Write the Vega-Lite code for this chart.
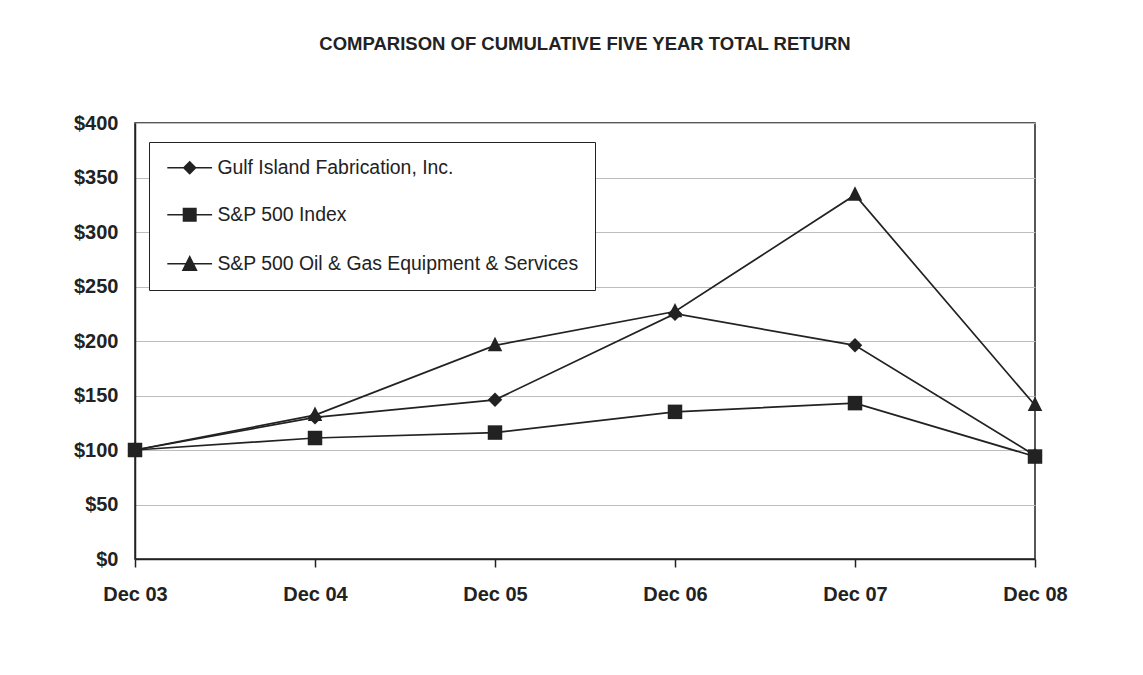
{
  "$schema": "https://vega.github.io/schema/vega-lite/v6.json",
  "width": 900,
  "height": 436,
  "autosize": {"type": "none"},
  "padding": {"left": 135, "top": 123, "right": 108, "bottom": 116},
  "background": "white",
  "title": {
    "text": "COMPARISON OF CUMULATIVE FIVE YEAR TOTAL RETURN",
    "font": "Liberation Sans",
    "fontSize": 18.5,
    "fontWeight": "bold",
    "color": "#222",
    "anchor": "middle",
    "baseline": "alphabetic",
    "offset": 45
  },
  "config": {
    "view": {"stroke": "#222", "strokeWidth": 1.5},
    "axis": {"labelFont": "Liberation Sans", "labelFontSize": 20, "labelFontWeight": "bold", "labelColor": "#222", "title": null}
  },
  "data": {
    "values": [
      {"year": "Dec 03", "series": "Gulf Island Fabrication, Inc.", "value": 100},
      {"year": "Dec 04", "series": "Gulf Island Fabrication, Inc.", "value": 130},
      {"year": "Dec 05", "series": "Gulf Island Fabrication, Inc.", "value": 146},
      {"year": "Dec 06", "series": "Gulf Island Fabrication, Inc.", "value": 225},
      {"year": "Dec 07", "series": "Gulf Island Fabrication, Inc.", "value": 196},
      {"year": "Dec 08", "series": "Gulf Island Fabrication, Inc.", "value": 95},
      {"year": "Dec 03", "series": "S&P 500 Index", "value": 100},
      {"year": "Dec 04", "series": "S&P 500 Index", "value": 111},
      {"year": "Dec 05", "series": "S&P 500 Index", "value": 116},
      {"year": "Dec 06", "series": "S&P 500 Index", "value": 135},
      {"year": "Dec 07", "series": "S&P 500 Index", "value": 143},
      {"year": "Dec 08", "series": "S&P 500 Index", "value": 94},
      {"year": "Dec 03", "series": "S&P 500 Oil & Gas Equipment & Services", "value": 100},
      {"year": "Dec 04", "series": "S&P 500 Oil & Gas Equipment & Services", "value": 132},
      {"year": "Dec 05", "series": "S&P 500 Oil & Gas Equipment & Services", "value": 196},
      {"year": "Dec 06", "series": "S&P 500 Oil & Gas Equipment & Services", "value": 227},
      {"year": "Dec 07", "series": "S&P 500 Oil & Gas Equipment & Services", "value": 334},
      {"year": "Dec 08", "series": "S&P 500 Oil & Gas Equipment & Services", "value": 141}
    ]
  },
  "encoding": {
    "x": {
      "field": "year",
      "type": "ordinal",
      "scale": {"type": "point", "padding": 0},
      "axis": {
        "labelAngle": 0,
        "domainColor": "#222",
        "domainWidth": 1.5,
        "ticks": true,
        "tickColor": "#222",
        "tickSize": 8,
        "tickWidth": 1.5,
        "labelPadding": 17,
        "grid": false
      }
    },
    "y": {
      "field": "value",
      "type": "quantitative",
      "scale": {"domain": [0, 400], "nice": false, "zero": true},
      "axis": {
        "values": [0, 50, 100, 150, 200, 250, 300, 350, 400],
        "format": "$,.0f",
        "ticks": false,
        "labelPadding": 17,
        "domainColor": "#222",
        "domainWidth": 1.5,
        "grid": true,
        "gridColor": "#bdbdbd",
        "gridWidth": 1
      }
    }
  },
  "layer": [
    {
      "mark": {"type": "line", "color": "#222", "strokeWidth": 1.7},
      "encoding": {"detail": {"field": "series"}}
    },
    {
      "mark": {"type": "point", "filled": true, "color": "#222", "opacity": 1, "size": 210},
      "encoding": {
        "shape": {
          "field": "series",
          "type": "nominal",
          "scale": {
            "domain": ["Gulf Island Fabrication, Inc.", "S&P 500 Index", "S&P 500 Oil & Gas Equipment & Services"],
            "range": ["diamond", "square", "M-1,0.8L0,-1.2L1,0.8Z"]
          },
          "legend": null
        }
      }
    },
    {
      "mark": {"type": "point", "filled": true, "color": "#222", "size": 0},
      "encoding": {
        "shape": {
          "field": "series",
          "type": "nominal",
          "scale": {
            "domain": ["Gulf Island Fabrication, Inc.", "S&P 500 Index", "S&P 500 Oil & Gas Equipment & Services"],
            "range": [
              "M-0.925,-0.1H4.675V0.1H-0.925ZM1.0,0L1.875,-0.875L2.75,0L1.875,0.875Z",
              "M-0.925,-0.1H4.675V0.1H-0.925ZM1.0,-0.875H2.75V0.875H1.0Z",
              "M-0.925,-0.1H4.675V0.1H-0.925ZM0.875,0.9L1.875,-1.1L2.875,0.9Z"
            ]
          },
          "legend": {
            "title": null,
            "orient": "none",
            "legendX": 14,
            "legendY": 19,
            "fillColor": "white",
            "strokeColor": "#222",
            "padding": 16,
            "symbolSize": 256,
            "symbolOpacity": 1,
            "symbolFillColor": "#222",
            "labelFont": "Liberation Sans",
            "labelFontSize": 19.4,
            "labelColor": "#222",
            "labelOffset": 33,
            "rowPadding": 26,
            "labelLimit": 500
          }
        }
      }
    }
  ],
  "resolve": {"scale": {"shape": "independent"}, "legend": {"shape": "independent"}}
}
